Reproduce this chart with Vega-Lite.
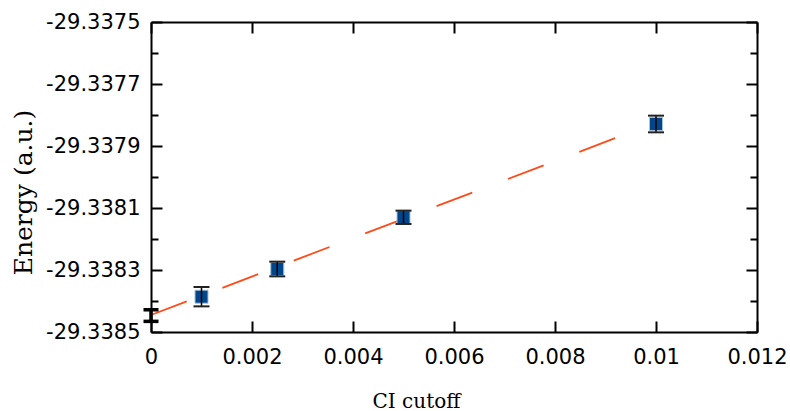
{
  "$schema": "https://vega.github.io/schema/vega-lite/v6.json",
  "autosize": {"type": "none"},
  "padding": {"left": 151, "top": 22, "right": 33, "bottom": 79},
  "width": 606,
  "height": 310,
  "background": "white",
  "config": {
    "view": {"stroke": null},
    "axis": {
      "domainColor": "black", "domainWidth": 2, "tickColor": "black", "tickWidth": 2,
      "grid": false, "labelFont": "DejaVu Sans", "labelFontSize": 21, "labelColor": "black",
      "titleFont": "DejaVu Serif", "titleFontWeight": "normal", "titleColor": "black"
    }
  },
  "datasets": {
    "pts": [
      {"cutoff": 0.001, "energy": -29.3383861, "lo": -29.3384173, "hi": -29.3383549},
      {"cutoff": 0.0025, "energy": -29.3382968, "lo": -29.3383205, "hi": -29.3382731},
      {"cutoff": 0.005, "energy": -29.33813, "lo": -29.3381515, "hi": -29.3381085},
      {"cutoff": 0.01, "energy": -29.337829, "lo": -29.3378559, "hi": -29.3378021}
    ],
    "fit": [
      {"cutoff": 0, "energy": -29.3384452},
      {"cutoff": 0.01, "energy": -29.3378245}
    ],
    "extrap": [
      {"cutoff": 0, "energy": -29.338447, "lo": -29.3384657, "hi": -29.3384283}
    ]
  },
  "resolve": {"axis": {"x": "independent", "y": "independent"}},
  "layer": [
    {
      "data": {"name": "fit"},
      "mark": {"type": "line", "color": "#ff4a1a", "strokeWidth": 1.8, "strokeDash": [38.2, 38.2]},
      "encoding": {
        "x": {"field": "cutoff", "type": "quantitative",
          "scale": {"domain": [0, 0.012], "nice": false, "zero": false},
          "axis": {"orient": "bottom", "values": [0, 0.002, 0.004, 0.006, 0.008, 0.01, 0.012], "format": "~g",
            "tickSize": -11, "labelPadding": 25, "labelFlush": false, "labelOverlap": false,
            "title": "CI cutoff", "titleFontSize": 20, "titleX": 265, "titleY": 75, "titleBaseline": "alphabetic", "titleAlign": "center"}},
        "y": {"field": "energy", "type": "quantitative",
          "scale": {"domain": [-29.3385, -29.3375], "nice": false, "zero": false},
          "axis": {"orient": "left", "values": [-29.3385, -29.3383, -29.3381, -29.3379, -29.3377, -29.3375], "format": ".4f",
            "labelExpr": "replace(datum.label, '\u2212', '-')",
            "tickSize": -11, "labelPadding": 22, "labelFlush": false, "labelOverlap": false,
            "title": "Energy (a.u.)", "titleFontSize": 25, "titleAngle": -90, "titleX": -120, "titleY": 170, "titleBaseline": "alphabetic", "titleAlign": "center"}}
      }
    },
    {
      "data": {"name": "pts"},
      "mark": {"type": "point", "shape": "square", "filled": true, "size": 169, "color": "#00468b", "stroke": "#a9bfd6", "strokeWidth": 1, "opacity": 1},
      "encoding": {
        "x": {"field": "cutoff", "type": "quantitative",
          "axis": {"orient": "top", "values": [0, 0.002, 0.004, 0.006, 0.008, 0.01, 0.012], "tickSize": -11, "labels": false, "title": null}},
        "y": {"field": "energy", "type": "quantitative",
          "axis": {"orient": "right", "values": [-29.3385, -29.3383, -29.3381, -29.3379, -29.3377, -29.3375], "tickSize": -11, "labels": false, "title": null}}
      }
    },
    {
      "data": {"name": "pts"},
      "mark": {"type": "rule", "color": "black", "strokeWidth": 1.5},
      "encoding": {
        "x": {"field": "cutoff", "type": "quantitative", "axis": null},
        "y": {"field": "lo", "type": "quantitative",
          "axis": {"orient": "left", "values": [-29.3384, -29.3382, -29.338, -29.3378, -29.3376], "tickSize": -7, "labels": false, "domain": false, "title": null}},
        "y2": {"field": "hi"}
      }
    },
    {
      "data": {"name": "pts"},
      "mark": {"type": "tick", "orient": "horizontal", "color": "#222222", "size": 16, "thickness": 2, "opacity": 1},
      "encoding": {
        "x": {"field": "cutoff", "type": "quantitative", "axis": null},
        "y": {"field": "lo", "type": "quantitative",
          "axis": {"orient": "right", "values": [-29.3384, -29.3382, -29.338, -29.3378, -29.3376], "tickSize": -7, "labels": false, "domain": false, "title": null}}
      }
    },
    {
      "data": {"name": "pts"},
      "mark": {"type": "tick", "orient": "horizontal", "color": "#222222", "size": 16, "thickness": 2, "opacity": 1},
      "encoding": {
        "x": {"field": "cutoff", "type": "quantitative", "axis": null},
        "y": {"field": "hi", "type": "quantitative", "axis": null}
      }
    },
    {
      "data": {"name": "extrap"},
      "mark": {"type": "rule", "color": "black", "strokeWidth": 3.5},
      "encoding": {
        "x": {"field": "cutoff", "type": "quantitative", "axis": null},
        "y": {"field": "lo", "type": "quantitative", "axis": null},
        "y2": {"field": "hi"}
      }
    },
    {
      "data": {"name": "extrap"},
      "mark": {"type": "tick", "orient": "horizontal", "color": "black", "size": 15, "thickness": 3.5, "opacity": 1},
      "encoding": {
        "x": {"field": "cutoff", "type": "quantitative", "axis": null},
        "y": {"field": "lo", "type": "quantitative", "axis": null}
      }
    },
    {
      "data": {"name": "extrap"},
      "mark": {"type": "tick", "orient": "horizontal", "color": "black", "size": 15, "thickness": 3.5, "opacity": 1},
      "encoding": {
        "x": {"field": "cutoff", "type": "quantitative", "axis": null},
        "y": {"field": "hi", "type": "quantitative", "axis": null}
      }
    }
  ]
}
